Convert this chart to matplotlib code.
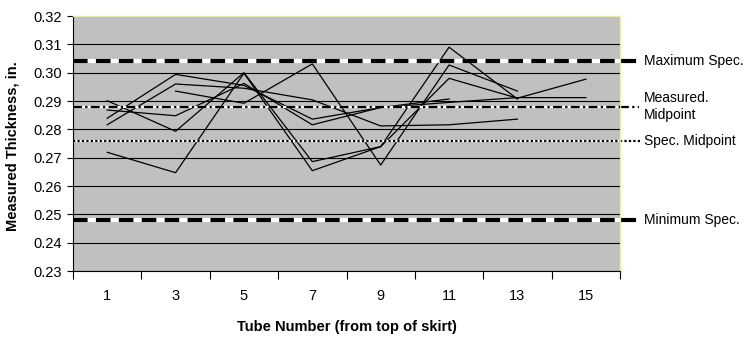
import numpy as np
import matplotlib.pyplot as plt

# --------------------------------------------------
# data
# --------------------------------------------------
tubes = ['1', '3', '5', '7', '9', '11', '13', '15']
nan = np.nan

run_a = [0.2719, 0.2647, 0.2998, 0.2654, 0.2739, 0.3090, 0.2907, nan]
run_b = [0.2901, 0.2793, 0.3000, 0.2686, 0.2739, 0.2980, 0.2910, 0.2977]
run_c = [0.2839, 0.2994, 0.2955, 0.2836, 0.2877, 0.2907, nan, nan]
run_d = [0.2868, 0.2848, 0.2962, 0.2816, 0.2877, 0.2895, 0.2912, 0.2912]
run_e = [0.2816, 0.2960, 0.2945, 0.2904, 0.2812, 0.2816, 0.2836, nan]
run_f = [nan, 0.2935, 0.2892, 0.3031, 0.2674, 0.3027, 0.2935, nan]
runs = [run_a, run_b, run_c, run_d, run_e, run_f]

max_spec = 0.304
meas_mid = 0.288
spec_mid = 0.276
min_spec = 0.248

plt.rcParams['font.family'] = ['Liberation Sans', 'DejaVu Sans']

W, H = 746, 339
fig = plt.figure(figsize=(W / 100, H / 100), dpi=100)
ax = fig.add_axes([73 / W, 68 / H, 547 / W, 255 / H])
ax.set_facecolor('#C0C0C0')

x = np.arange(len(tubes))
for r in runs:
    ax.plot(x, r, color='black', lw=0.9, zorder=2)

# spec / midpoint lines (white under black -> white gaps)
ax.axhline(max_spec, color='white', lw=3, zorder=3)
ax.axhline(max_spec, color='black', lw=3, dashes=(3.5, 2), zorder=4)
ax.axhline(min_spec, color='white', lw=3, zorder=3)
ax.axhline(min_spec, color='black', lw=3, dashes=(3.5, 2), zorder=4)
ax.axhline(meas_mid, color='white', lw=1.6, zorder=3)
ax.axhline(meas_mid, color='black', lw=1.6, dashes=(4, 1.5, 1, 1.5), zorder=4)
ax.axhline(spec_mid, color='white', lw=1.6, zorder=3)
ax.axhline(spec_mid, color='black', lw=1.6, dashes=(1, 1), zorder=4)

# legend on the right, next to each line
yt = ax.get_yaxis_transform()
ax.plot([1.0, 1.025], [max_spec] * 2, transform=yt, clip_on=False, color='black', lw=3)
ax.plot([1.0, 1.025], [min_spec] * 2, transform=yt, clip_on=False, color='black', lw=3)
ax.plot([1.0, 1.035], [meas_mid] * 2, transform=yt, clip_on=False, color='black',
        lw=1.6, dashes=(4, 1.5, 1, 1.5))
ax.plot([1.0, 1.04], [spec_mid] * 2, transform=yt, clip_on=False, color='black',
        lw=1.6, dashes=(1, 1))

tx = 1 + 24 / 547
ax.text(tx, max_spec, 'Maximum Spec.', transform=yt, va='center', fontsize=10)
ax.text(tx, meas_mid, 'Measured.\nMidpoint', transform=yt, va='center', fontsize=10,
        linespacing=1.3)
ax.text(tx, spec_mid, 'Spec. Midpoint', transform=yt, va='center', fontsize=10)
ax.text(tx, min_spec, 'Minimum Spec.', transform=yt, va='center', fontsize=10)

# axes
ax.set_ylim(0.23, 0.32)
ax.set_yticks(np.arange(0.23, 0.3201, 0.01))
ax.set_yticklabels([f'{v:.2f}' for v in np.arange(0.23, 0.3201, 0.01)], fontsize=10.5)
ax.yaxis.grid(True, color='black', lw=0.8)
ax.set_axisbelow(True)
ax.tick_params(axis='y', length=4, width=0.8, pad=4)

ax.set_xlim(-0.5, 7.5)
ax.set_xticks(np.arange(-0.5, 8, 1))
ax.set_xticklabels([])
ax.set_xticks(x, minor=True)
ax.set_xticklabels(tubes, minor=True, fontsize=10.5)
ax.tick_params(axis='x', which='major', length=6, width=0.8)
ax.tick_params(axis='x', which='minor', length=0, pad=13)

for s in ['left', 'bottom']:
    ax.spines[s].set_color('black')
    ax.spines[s].set_linewidth(0.8)
for s in ['top', 'right']:
    ax.spines[s].set_color('#EAEFA8')
    ax.spines[s].set_linewidth(1)

fig.text(347 / W, 1 - 327 / H, 'Tube Number (from top of skirt)', ha='center', va='center',
         fontsize=10.5, fontweight='bold')
fig.text(13 / W, 1 - 146 / H, 'Measured Thickness, in.', ha='center', va='center',
         rotation=90, fontsize=10.5, fontweight='bold')

fig.savefig('out.png', dpi=100)
